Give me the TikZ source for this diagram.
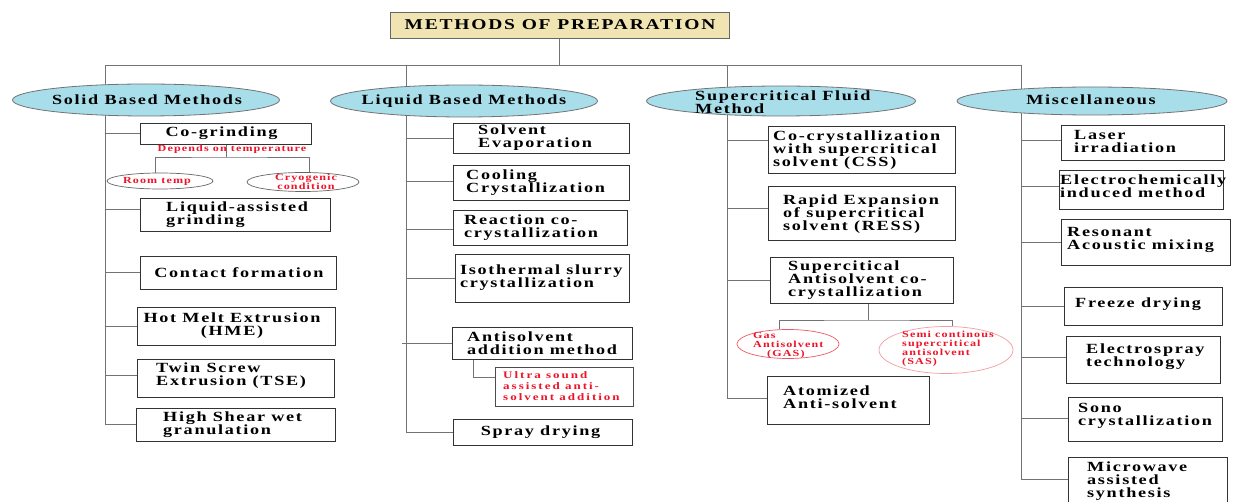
\documentclass[tikz,border=0pt]{standalone}
\usepackage{fontspec}
\setmainfont{Liberation Serif}[FakeStretch=1.3,LetterSpace=12]
\newfontfamily\widefont{Liberation Serif}[FakeStretch=1.3,LetterSpace=20]
\usetikzlibrary{shapes.geometric,backgrounds}
\definecolor{headblue}{RGB}{168,221,234}
\definecolor{titlefill}{RGB}{240,228,178}
\definecolor{redc}{RGB}{238,20,40}
\definecolor{pinkline}{RGB}{235,90,100}
\tikzset{
  box/.style={draw=black!80, line width=0.9pt, inner sep=0pt, fill=white},
  txt/.style={font=\bfseries\fontsize{14}{13}\selectfont, align=left, inner sep=0pt, text=black},
  ctxt/.style={txt, align=center},
  rtxt/.style={font=\bfseries\fontsize{9.3}{9}\selectfont, text=redc, align=left, inner sep=0pt},
  head/.style={ellipse, draw=black!55, fill=headblue, line width=0.8pt, inner sep=0pt},
  subell/.style={ellipse, draw=black!60, fill=white, line width=0.7pt, inner sep=0pt},
  conn/.style={draw=black!55, line width=0.9pt},
}
% name, x1, y1, x2, y2, text x, dy, text
\newcommand\lbox[8]{%
  \node[box, minimum width={#4-#2}, minimum height={#5-#3}] (#1) at ({(#2+#4)/2},{(#3+#5)/2}) {};
  \node[txt, anchor=west] (#1-t) at (#6,{(#3+#5)/2+#7}) {#8};}
% name, x1, y1, x2, y2, dx, text
\newcommand\cbox[7]{%
  \node[box, minimum width={#4-#2}, minimum height={#5-#3}] (#1) at ({(#2+#4)/2},{(#3+#5)/2}) {};
  \node[ctxt] (#1-t) at ({(#2+#4)/2+#6},{(#3+#5)/2}) {#7};}
\newcommand\br[3]{\draw[conn] ([yshift=#3pt]#1.west) -- ([yshift=#3pt]#1.west -| #2);}
\begin{document}
\begin{tikzpicture}[x=1pt,y=-1pt]
\useasboundingbox (0,0) rectangle (1236,502);

% title
\node[draw=black!60, fill=titlefill, line width=0.9pt, minimum width=339, minimum height=26, inner sep=0pt] (title) at (559.5,25) {};
\node[font=\bfseries\fontsize{15}{15}\selectfont, inner sep=0pt] (title-t) at (560,25) {METHODS OF PREPARATION};

% column coordinates
\coordinate (busS) at (105,65);
\coordinate (busL) at (406,65);
\coordinate (busC) at (727,65);
\coordinate (busM) at (1021,65);
\coordinate (endS) at (105,424);
\coordinate (endL) at (406,432);
\coordinate (endC) at (727,398);
\coordinate (endM) at (1021,479);

% headers
\node[head, minimum width=267, minimum height=32] (solid) at (146,100) {};
\node[txt] (solid-t) at (147,100) {Solid Based Methods};
\node[head, minimum width=267, minimum height=32] (liquid) at (464,101) {};
\node[txt] (liquid-t) at (464,101) {Liquid Based Methods};
\node[head, minimum width=269, minimum height=30] (super) at (781,101) {};
\node[txt, anchor=west] (super-t) at (695,102) {Supercritical Fluid\\Method};
\node[head, minimum width=270, minimum height=28] (misc) at (1092,101) {};
\node[txt] (misc-t) at (1091,100) {Miscellaneous};

% solid column
\cbox{cog}{140}{123}{311}{144}{-4}{Co-grinding}
\node[rtxt] (dep) at (232,149) {Depends on temperature};
\node[subell, minimum width=106, minimum height=16] (room) at (160,181) {};
\node[rtxt] (room-t) at (157,181) {Room temp};
\node[subell, minimum width=112, minimum height=19] (cryo) at (303,182) {};
\node[rtxt, align=center] (cryo-t) at (306,182) {Cryogenic\\condition};
\coordinate (cogJ) at (226,157);
\lbox{lag}{140}{198}{330}{231}{166}{0}{Liquid-assisted\\grinding}
\cbox{cont}{140}{256}{336}{289}{1}{Contact formation}
\cbox{hme}{137}{307}{335}{345}{-4}{Hot Melt Extrusion\\(HME)}
\lbox{tse}{137}{359}{334}{397}{156}{-2}{Twin Screw\\Extrusion (TSE)}
\lbox{hsw}{136}{408}{335}{441}{163}{0}{High Shear wet\\granulation}

% liquid column
\lbox{se}{453}{123}{629}{153}{478}{0}{Solvent\\Evaporation}
\lbox{cc}{453}{165}{629}{200}{466}{0}{Cooling\\Crystallization}
\lbox{rc}{453}{210}{627}{245}{464}{0}{Reaction co-\\crystallization}
\lbox{is}{455}{254}{629}{302}{460}{0}{Isothermal slurry\\crystallization}
\lbox{aa}{452}{327}{632}{359}{467}{0}{Antisolvent\\addition method}
\node[box, draw=black!70, minimum width=138, minimum height=39] (us) at (564,386.5) {};
\node[font=\widefont\bfseries\fontsize{10}{11}\selectfont, text=redc, align=left, inner sep=0pt, anchor=west] (us-t) at (503,386) {Ultra sound\\assisted anti-\\solvent addition};
\cbox{sd}{453}{419}{632}{445}{-2}{Spray drying}

% supercritical column
\lbox{css}{768}{126}{955}{173}{773}{1}{Co-crystallization\\with supercritical\\solvent (CSS)}
\lbox{ress}{768}{186}{955}{240}{783}{1}{Rapid Expansion\\of supercritical\\solvent (RESS)}
\lbox{sa}{770}{257}{953}{303}{788}{0}{Supercitical\\Antisolvent co-\\crystallization}
\node[subell, draw=pinkline, minimum width=102, minimum height=29] (gas) at (788,344) {};
\node[rtxt, anchor=west] (gas-t) at (753,345) {Gas\\Antisolvent\\\hspace*{14pt}(GAS)};
\node[subell, draw=pinkline!60, minimum width=134, minimum height=47] (sas) at (946,350) {};
\node[rtxt, anchor=west] (sas-t) at (902,349) {Semi continous\\supercritical\\antisolvent\\(SAS)};
\coordinate (saJ) at (868,320);
\lbox{at}{767}{376}{929}{424}{783}{-3}{Atomized\\Anti-solvent}

% misc column
\lbox{li}{1061}{125}{1224}{160}{1074}{-1}{Laser\\irradiation}
\lbox{ei}{1059}{170}{1223}{209}{1060}{-3}{Electrochemically\\induced method}
\lbox{ra}{1061}{219}{1230}{265}{1067}{-2}{Resonant\\Acoustic mixing}
\lbox{fd}{1064}{287}{1222}{325}{1075}{-2}{Freeze drying}
\lbox{et}{1066}{336}{1220}{383}{1086}{-3}{Electrospray\\technology}
\lbox{sc}{1068}{397}{1222}{441}{1078}{-3}{Sono\\crystallization}
\lbox{mw}{1068}{457}{1227}{505}{1087}{0}{Microwave\\assisted\\synthesis}

\begin{pgfonlayer}{background}
\fill[white] (0,0) rectangle (1236,502);
\draw[conn] (busS) -- (busM);
\draw[conn] (title) -- (title |- busS);
\draw[conn] (busS) -- (endS);
\draw[conn] (busL) -- (endL);
\draw[conn] (busC) -- (endC);
\draw[conn] (busM) -- (endM);
% solid branches
\br{cog}{busS}{0}
\br{lag}{busS}{5.5}
\br{cont}{busS}{0}
\br{hme}{busS}{0}
\br{tse}{busS}{3}
\br{hsw}{busS}{0}
\draw[conn] (cog.south -| cogJ) -- (cogJ);
\draw[conn] ([xshift=-5pt]room.north) |- (cogJ) -| ([xshift=6pt]cryo.north);
% liquid branches
\br{se}{busL}{0}
\br{cc}{busL}{1.5}
\br{rc}{busL}{-1.5}
\br{is}{busL}{0}
\draw[conn] (aa.west) -- ([xshift=-4pt]aa.west -| busL);
\br{sd}{busL}{0}
\draw[conn] ([xshift=22pt]aa.south west) |- ([yshift=9.5pt]us.west);
% supercritical branches
\br{css}{busC}{9.5}
\br{ress}{busC}{5}
\br{sa}{busC}{0}
\br{at}{busC}{2}
\draw[conn] (sa.south -| saJ) -- (saJ);
\draw[conn] ([xshift=-9pt]gas.north) |- (saJ) -| ([xshift=6pt]sas.north);
% misc branches
\br{li}{busM}{2.5}
\br{ei}{busM}{3.5}
\br{ra}{busM}{0}
\br{fd}{busM}{0}
\br{et}{busM}{2.5}
\br{sc}{busM}{1}
\br{mw}{busM}{2}
\end{pgfonlayer}
\end{tikzpicture}
\end{document}
